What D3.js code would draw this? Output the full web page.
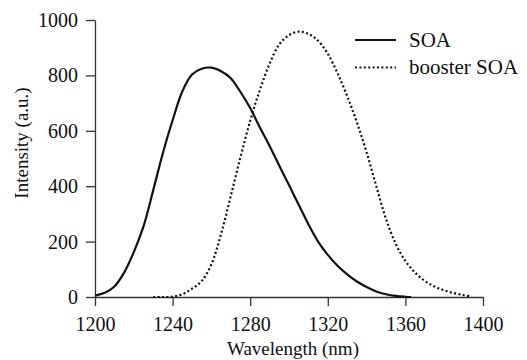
<!DOCTYPE html>
<html>
<head>
<meta charset="utf-8">
<script src="https://cdn.jsdelivr.net/npm/d3@7/dist/d3.min.js"></script>
<style>
    body { margin: 0; background: #fff; }
    svg { display: block; }
    .axis path, .axis line { stroke: #333; stroke-width: 1.3; }
</style>
</head>
<body>
<svg class="spectrum" width="527" height="360"></svg>
<script>
"use strict";

// wavelength (nm) / intensity (a.u.)
var soaWavelength = [1200, 1205, 1210, 1215, 1220, 1225, 1230, 1235, 1240, 1245, 1250, 1255, 1260, 1265, 1270, 1275, 1280, 1285, 1290, 1295, 1300, 1305, 1310, 1315, 1320, 1325, 1330, 1335, 1340, 1345, 1350, 1355, 1360, 1363];
var soaIntensity = [5, 15, 38, 88, 162, 255, 385, 520, 638, 742, 803, 824, 828, 815, 790, 740, 682, 612, 545, 474, 404, 333, 263, 200, 152, 113, 82, 56, 36, 20, 10, 4, 1, 0];

var boosterWavelength = [1230, 1235, 1240, 1245, 1250, 1255, 1260, 1265, 1270, 1275, 1280, 1285, 1290, 1295, 1300, 1305, 1310, 1315, 1320, 1325, 1330, 1335, 1340, 1345, 1350, 1355, 1360, 1365, 1370, 1375, 1380, 1385, 1390, 1393];
var boosterIntensity = [0, 0, 1, 10, 30, 58, 118, 228, 365, 505, 636, 748, 842, 912, 945, 958, 950, 925, 878, 808, 725, 630, 522, 400, 282, 192, 130, 88, 58, 38, 24, 14, 7, 3];

var xTicks = [1200, 1240, 1280, 1320, 1360, 1400];
var yTicks = [0, 200, 400, 600, 800, 1000];

var seriesNames = ["SOA", "booster SOA"];

var serif = "'Liberation Serif', 'Times New Roman', serif";

function zipSeries(xs, ys) {
    return xs.map(function (x, i) {
        return { wl: x, val: ys[i] };
    });
}

function drawSpectrum() {
    var svg = d3.select("svg.spectrum");
    var margin = { top: 20, right: 44, bottom: 63, left: 95 };
    var width = +svg.attr("width") - margin.left - margin.right;
    var height = +svg.attr("height") - margin.top - margin.bottom;
    var g = svg.append("g").attr("transform", "translate(" + margin.left + ", " + margin.top + ")");

    var x = d3.scaleLinear().domain([1200, 1400]).range([0, width]);
    var y = d3.scaleLinear().domain([0, 1000]).range([height, 0]);

    var xAxis = g.append("g").attr("class", "axis axis--x").attr("transform", "translate(0, " + height + ")")
        .call(d3.axisBottom(x).tickValues(xTicks).tickSize(9).tickSizeOuter(0).tickPadding(11).tickFormat(d3.format("d")));

    var yAxis = g.append("g").attr("class", "axis axis--y")
        .call(d3.axisLeft(y).tickValues(yTicks).tickSize(9).tickSizeOuter(0).tickPadding(8).tickFormat(d3.format("d")));

    [xAxis, yAxis].forEach(function (ax) {
        ax.selectAll("text").style("font-family", serif).style("font-size", "20px").attr("fill", "#111");
    });

    var line = d3.line().curve(d3.curveCatmullRom.alpha(0.5)).x(function (d) {
        return x(d.wl);
    }).y(function (d) {
        return y(Math.max(0, d.val));
    });

    g.append("path").datum(zipSeries(boosterWavelength, boosterIntensity))
        .attr("fill", "none").attr("stroke", "#111").attr("stroke-width", 2.2)
        .attr("stroke-dasharray", "2,2.4").attr("d", line);

    g.append("path").datum(zipSeries(soaWavelength, soaIntensity))
        .attr("fill", "none").attr("stroke", "#111").attr("stroke-width", 2.2).attr("d", line);

    // axis titles
    svg.append("text").attr("text-anchor", "middle").attr("fill", "#111")
        .style("font-family", serif).style("font-size", "19px")
        .attr("x", margin.left + width / 2 + 4).attr("y", 355).text("Wavelength (nm)");

    svg.append("text").attr("text-anchor", "middle").attr("fill", "#111")
        .style("font-family", serif).style("font-size", "19px")
        .attr("transform", "translate(27.5, 143) rotate(-90)").text("Intensity (a.u.)");

    // legend
    var legend = svg.append("g").attr("class", "legend").attr("transform", "translate(355, 40)");
    var rows = legend.selectAll("g").data(seriesNames).enter().append("g").attr("transform", function (d, i) {
        return "translate(0, " + i * 27.5 + ")";
    });
    rows.append("line").attr("x1", 0).attr("x2", 41).attr("y1", 0).attr("y2", 0)
        .attr("stroke", "#111").attr("stroke-width", 2.2)
        .attr("stroke-dasharray", function (d, i) {
            return i === 1 ? "2,2.4" : null;
        });
    rows.append("text").attr("x", 54).attr("y", 0).attr("dy", "0.33em").attr("fill", "#111")
        .style("font-family", serif).style("font-size", "21px")
        .text(function (d) {
            return d;
        });
}

drawSpectrum();
</script>
</body>
</html>
